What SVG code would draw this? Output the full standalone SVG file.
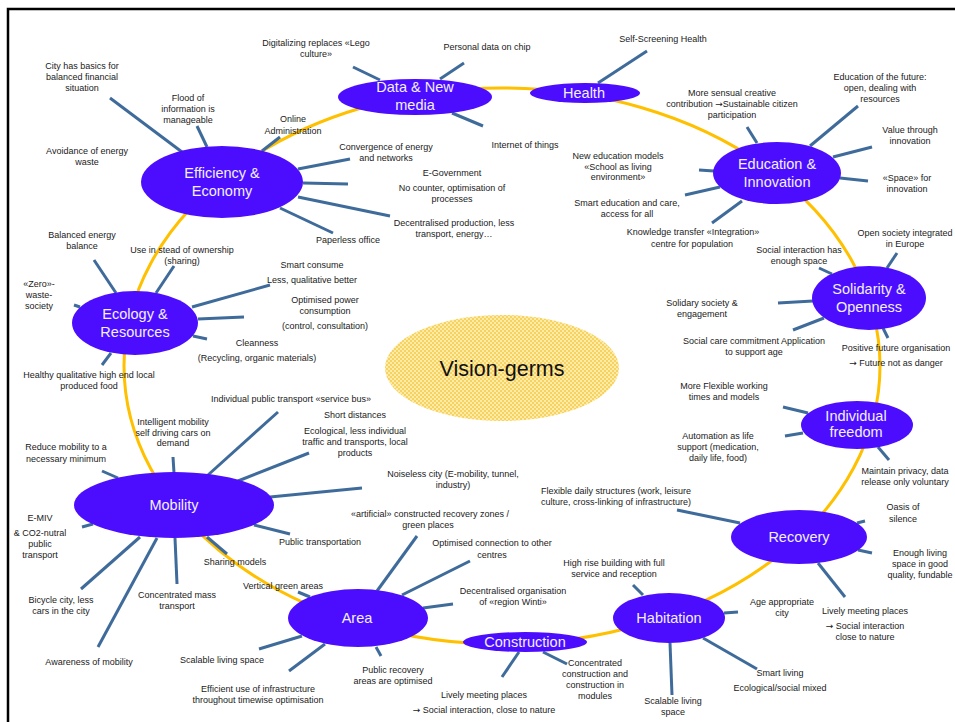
<svg xmlns="http://www.w3.org/2000/svg" width="955" height="722" viewBox="0 0 955 722">
<defs>
<pattern id="dots" width="4" height="4" patternUnits="userSpaceOnUse">
<rect width="4" height="4" fill="#F7D260"/>
<rect x="0" y="0" width="2" height="2" fill="#FDEBA8"/>
<rect x="2" y="2" width="2" height="2" fill="#FDEBA8"/>
</pattern>
</defs>
<style>
.n{fill:#4C0DFF;}
.nt{fill:#F2F0FF;font-family:"Liberation Sans",Arial,sans-serif;font-size:14.5px;text-anchor:middle;}
.l{fill:#1a1a1a;font-family:"Liberation Sans",Arial,sans-serif;font-size:9px;text-anchor:middle;}
.s{stroke:#3F6B9B;stroke-width:3;fill:none;}
.ar{font-family:"DejaVu Sans",sans-serif;font-size:9px;}
</style>
<rect width="955" height="722" fill="#ffffff"/>
<path d="M8,722 V9 H955" fill="none" stroke="#000" stroke-width="2.5"/>
<g id="ring"><ellipse cx="502" cy="366" rx="378" ry="278" fill="none" stroke="#FFC000" stroke-width="3"/></g>
<g id="connectors" class="s">
<line x1="110" y1="98" x2="182" y2="152"/>
<line x1="197" y1="126" x2="207" y2="147"/>
<line x1="280" y1="137" x2="262" y2="151"/>
<line x1="298" y1="169" x2="350" y2="159"/>
<line x1="303" y1="183" x2="348" y2="184"/>
<line x1="298" y1="197" x2="390" y2="216"/>
<line x1="280" y1="208" x2="333" y2="233"/>
<line x1="353" y1="67" x2="380" y2="80"/>
<line x1="440" y1="79" x2="464" y2="63"/>
<line x1="452" y1="113" x2="483" y2="126"/>
<line x1="598" y1="83" x2="647" y2="51"/>
<line x1="747" y1="127" x2="757" y2="143"/>
<line x1="810" y1="146" x2="858" y2="106"/>
<line x1="833" y1="157" x2="872" y2="147"/>
<line x1="840" y1="178" x2="868" y2="181"/>
<line x1="699" y1="170" x2="714" y2="171"/>
<line x1="685" y1="195" x2="720" y2="187"/>
<line x1="712" y1="223" x2="742" y2="201"/>
<line x1="819" y1="268" x2="832" y2="274"/>
<line x1="887" y1="268" x2="897" y2="253"/>
<line x1="778" y1="303" x2="813" y2="301"/>
<line x1="793" y1="330" x2="824" y2="318"/>
<line x1="883" y1="328" x2="888" y2="338"/>
<line x1="783" y1="407" x2="808" y2="413"/>
<line x1="785" y1="436" x2="803" y2="433"/>
<line x1="878" y1="447" x2="889" y2="460"/>
<line x1="677" y1="510" x2="740" y2="523"/>
<line x1="857" y1="523" x2="865" y2="521"/>
<line x1="858" y1="550" x2="872" y2="553"/>
<line x1="818" y1="563" x2="845" y2="597"/>
<line x1="633" y1="585" x2="643" y2="595"/>
<line x1="724" y1="613" x2="738" y2="612"/>
<line x1="703" y1="638" x2="757" y2="669"/>
<line x1="670" y1="643" x2="672" y2="695"/>
<line x1="519" y1="652" x2="502" y2="677"/>
<line x1="543" y1="652" x2="567" y2="664"/>
<line x1="377" y1="591" x2="417" y2="536"/>
<line x1="402" y1="595" x2="470" y2="561"/>
<line x1="423" y1="608" x2="453" y2="604"/>
<line x1="376" y1="647" x2="381" y2="656"/>
<line x1="298" y1="592" x2="310" y2="597"/>
<line x1="259" y1="649" x2="302" y2="636"/>
<line x1="289" y1="671" x2="325" y2="644"/>
<line x1="102" y1="471" x2="118" y2="478"/>
<line x1="173" y1="457" x2="174" y2="473"/>
<line x1="278" y1="412" x2="208" y2="475"/>
<line x1="309" y1="453" x2="238" y2="481"/>
<line x1="270" y1="497" x2="362" y2="488"/>
<line x1="254" y1="525" x2="290" y2="534"/>
<line x1="207" y1="537" x2="227" y2="554"/>
<line x1="175" y1="538" x2="177" y2="584"/>
<line x1="157" y1="538" x2="98" y2="647"/>
<line x1="140" y1="537" x2="81" y2="589"/>
<line x1="82" y1="527" x2="93" y2="524"/>
<line x1="94" y1="260" x2="116" y2="293"/>
<line x1="174" y1="266" x2="156" y2="293"/>
<line x1="74" y1="305" x2="80" y2="307"/>
<line x1="192" y1="307" x2="270" y2="285"/>
<line x1="198" y1="319" x2="244" y2="317"/>
<line x1="193" y1="336" x2="207" y2="339"/>
<line x1="111" y1="353" x2="102" y2="365"/>
</g>
<g id="vision-germs">
<ellipse cx="502" cy="368" rx="117" ry="53" fill="url(#dots)"/>
<text x="502" y="376" font-family="Liberation Sans,Arial,sans-serif" font-size="21.5" text-anchor="middle" fill="#111">Vision-germs</text>
</g>
<g id="node-efficiency"><ellipse class="n" cx="222" cy="182" rx="81" ry="36"/><text class="nt" x="222" y="178">Efficiency &amp;</text><text class="nt" x="222" y="196">Economy</text></g>
<g id="node-data"><ellipse class="n" cx="415" cy="97" rx="77" ry="18"/><text class="nt" x="415" y="92">Data &amp; New</text><text class="nt" x="415" y="110">media</text></g>
<g id="node-health"><ellipse class="n" cx="585" cy="93" rx="55" ry="10"/><text class="nt" x="584" y="98">Health</text></g>
<g id="node-education"><ellipse class="n" cx="777" cy="173" rx="64" ry="31"/><text class="nt" x="777" y="169">Education &amp;</text><text class="nt" x="777" y="187">Innovation</text></g>
<g id="node-solidarity"><ellipse class="n" cx="869" cy="298" rx="57" ry="32"/><text class="nt" x="869" y="294">Solidarity &amp;</text><text class="nt" x="869" y="312">Openness</text></g>
<g id="node-freedom"><ellipse class="n" cx="857" cy="425" rx="56" ry="24"/><text class="nt" x="856" y="421">Individual</text><text class="nt" x="856" y="437">freedom</text></g>
<g id="node-recovery"><ellipse class="n" cx="799" cy="537" rx="68" ry="27"/><text class="nt" x="799" y="542">Recovery</text></g>
<g id="node-habitation"><ellipse class="n" cx="669" cy="618" rx="56" ry="25"/><text class="nt" x="669" y="623">Habitation</text></g>
<g id="node-construction"><ellipse class="n" cx="525" cy="642" rx="62" ry="10"/><text class="nt" x="525" y="647">Construction</text></g>
<g id="node-area"><ellipse class="n" cx="358" cy="618" rx="70" ry="29"/><text class="nt" x="357" y="623">Area</text></g>
<g id="node-mobility"><ellipse class="n" cx="174" cy="505" rx="100" ry="33"/><text class="nt" x="174" y="510">Mobility</text></g>
<g id="node-ecology"><ellipse class="n" cx="135" cy="323" rx="63" ry="32"/><text class="nt" x="135" y="319">Ecology &amp;</text><text class="nt" x="135" y="337">Resources</text></g>
<g id="labels" class="l">
<text x="82" y="69">City has basics for</text><text x="82" y="80">balanced financial</text><text x="82" y="91">situation</text>
<text x="188" y="101">Flood of</text><text x="188" y="112">information is</text><text x="188" y="123">manageable</text>
<text x="293" y="122">Online</text><text x="293" y="134">Administration</text>
<text x="87" y="154">Avoidance of energy</text><text x="87" y="165">waste</text>
<text x="316" y="46">Digitalizing replaces «Lego</text><text x="316" y="57">culture»</text>
<text x="487" y="50">Personal data on chip</text>
<text x="525" y="148">Internet of things</text>
<text x="386" y="150">Convergence of energy</text><text x="386" y="161">and networks</text>
<text x="452" y="176">E-Government</text>
<text x="452" y="191">No counter, optimisation of</text><text x="452" y="202">processes</text>
<text x="454" y="226">Decentralised production, less</text><text x="454" y="237">transport, energy…</text>
<text x="348" y="243">Paperless office</text>
<text x="663" y="42">Self-Screening Health</text>
<text x="732" y="96">More sensual creative</text><text x="732" y="107">contribution  <tspan class="ar">→</tspan>Sustainable citizen</text><text x="732" y="118">participation</text>
<text x="880" y="80">Education of the future:</text><text x="880" y="91">open,  dealing with</text><text x="880" y="102">resources</text>
<text x="910" y="133">Value through</text><text x="910" y="144">innovation</text>
<text x="907" y="181">«Space» for</text><text x="907" y="192">innovation</text>
<text x="618" y="159">New education models</text><text x="618" y="170">«School as living</text><text x="618" y="180">environment»</text>
<text x="627" y="206">Smart education and care,</text><text x="627" y="217">access for all</text>
<text x="693" y="235">Knowledge transfer «Integration»</text><text x="692" y="247">centre for population</text>
<text x="905" y="236">Open society integrated</text><text x="905" y="247">in Europe</text>
<text x="799" y="253">Social interaction has</text><text x="799" y="264">enough space</text>
<text x="702" y="306">Solidary society &amp;</text><text x="702" y="317">engagement</text>
<text x="754" y="344">Social care commitment Application</text><text x="754" y="355">to support  age</text>
<text x="896" y="351">Positive future organisation</text><text x="896" y="366"><tspan class="ar">→</tspan> Future not as danger</text>
<text x="724" y="389">More Flexible working</text><text x="724" y="400">times and models</text>
<text x="718" y="439">Automation as life</text><text x="718" y="450">support (medication,</text><text x="718" y="461">daily life, food)</text>
<text x="905" y="474">Maintain privacy, data</text><text x="905" y="485">release only voluntary</text>
<text x="616" y="494">Flexible daily structures (work, leisure</text><text x="616" y="505">culture, cross-linking of infrastructure)</text>
<text x="903" y="510">Oasis of</text><text x="903" y="522">silence</text>
<text x="920" y="556">Enough living</text><text x="920" y="567">space in good</text><text x="920" y="578">quality, fundable</text>
<text x="865" y="614">Lively meeting places</text><text x="865" y="629"><tspan class="ar">→</tspan> Social interaction</text><text x="865" y="640">close to nature</text>
<text x="614" y="566">High rise building with full</text><text x="614" y="577">service and reception</text>
<text x="782" y="605">Age appropriate</text><text x="782" y="616">city</text>
<text x="780" y="676">Smart living</text><text x="780" y="691">Ecological/social mixed</text>
<text x="673" y="704">Scalable living</text><text x="673" y="715">space</text>
<text x="595" y="666">Concentrated</text><text x="595" y="677">construction and</text><text x="595" y="688">construction in</text><text x="595" y="699">modules</text>
<text x="484" y="698">Lively meeting places</text><text x="484" y="713"><tspan class="ar">→</tspan> Social interaction, close to nature</text>
<text x="430" y="517">«artificial» constructed recovery zones /</text><text x="428" y="528">green places</text>
<text x="492" y="546">Optimised connection to other</text><text x="492" y="558">centres</text>
<text x="513" y="594">Decentralised organisation</text><text x="513" y="605">of «region Winti»</text>
<text x="393" y="673">Public recovery</text><text x="393" y="684">areas are optimised</text>
<text x="283" y="589">Vertical green areas</text>
<text x="222" y="663">Scalable living space</text>
<text x="258" y="692">Efficient use of infrastructure</text><text x="258" y="703">throughout timewise optimisation</text>
<text x="66" y="450">Reduce mobility to a</text><text x="66" y="462">necessary minimum</text>
<text x="173" y="425">Intelligent mobility</text><text x="173" y="436">self driving cars on</text><text x="173" y="446">demand</text>
<text x="291" y="402">Individual public transport «service bus»</text>
<text x="355" y="418">Short distances</text>
<text x="355" y="434">Ecological, less individual</text><text x="355" y="445">traffic and transports, local</text><text x="355" y="456">products</text>
<text x="453" y="477">Noiseless city (E-mobility, tunnel,</text><text x="453" y="488">industry)</text>
<text x="320" y="545">Public transportation</text>
<text x="235" y="565">Sharing models</text>
<text x="177" y="598">Concentrated mass</text><text x="177" y="609">transport</text>
<text x="89" y="665">Awareness of mobility</text>
<text x="61" y="603">Bicycle city, less</text><text x="61" y="614">cars in the city</text>
<text x="40" y="521">E-MIV</text><text x="40" y="536">&amp; CO2-nutral</text><text x="40" y="547">public</text><text x="40" y="558">transport</text>
<text x="82" y="238">Balanced energy</text><text x="82" y="249">balance</text>
<text x="182" y="253">Use in stead of ownership</text><text x="182" y="264">(sharing)</text>
<text x="39" y="287">«Zero»-</text><text x="39" y="298">waste-</text><text x="39" y="309">society</text>
<text x="312" y="268">Smart consume</text>
<text x="312" y="283">Less, qualitative better</text>
<text x="325" y="303">Optimised power</text><text x="325" y="314">consumption</text>
<text x="325" y="329">(control, consultation)</text>
<text x="257" y="346">Cleanness</text>
<text x="257" y="361">(Recycling, organic materials)</text>
<text x="89" y="378">Healthy qualitative high end local</text><text x="89" y="389">produced food</text>
</g>
</svg>
